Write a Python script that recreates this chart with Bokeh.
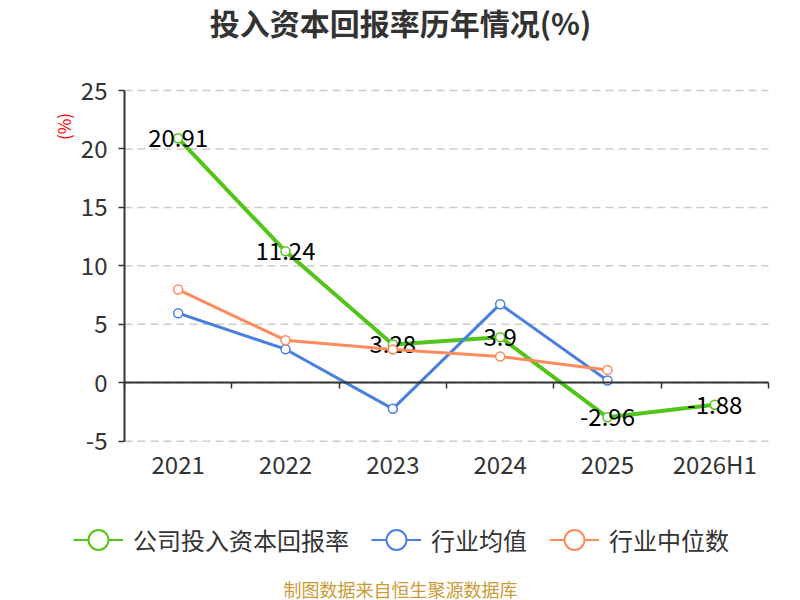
from math import pi
from bokeh.plotting import figure
from bokeh.layouts import column
from bokeh.models import (Range1d, LinearAxis, FixedTicker, Legend, LegendItem,
                          Label, ColumnDataSource)
from bokeh.core.properties import value
from bokeh.embed import file_html
from bokeh.resources import INLINE

# ---- data ----
categories = ["2021", "2022", "2023", "2024", "2025", "2026H1"]
company = [20.91, 11.24, 3.28, 3.9, -2.96, -1.88]
industry_avg = [5.95, 2.87, -2.23, 6.72, 0.19]
industry_median = [7.97, 3.64, 2.84, 2.24, 1.10]
y_ticks = [-5, 0, 5, 10, 15, 20, 25]
series_names = ["公司投入资本回报率", "行业均值", "行业中位数"]
title_text = "投入资本回报率历年情况(%)"
unit_text = "(%)"
footer_text = "制图数据来自恒生聚源数据库"

FONT = "Noto Sans CJK SC"
GREEN = "#52c41a"
BLUE = "#4a7fe0"
ORANGE = "#ff8a5b"
TXT = "#333333"
colors = [GREEN, BLUE, ORANGE]

n = len(categories)
xs = [i + 0.5 for i in range(n)]
boundaries = list(range(n + 1))
series = [company, industry_avg, industry_median]

# layout: the frames of all three plots span page x 50..800,
# the category band 0..n is drawn over page x 124..768
FRAME_L, AX_L, AX_R, FRAME_R = 50, 124, 768, 800
unit_px = (AX_R - AX_L) / n
x_start = -(AX_L - FRAME_L) / unit_px
x_end = n + (FRAME_R - AX_R) / unit_px

# vertical: value 25 at page y 90, -5 at page y 440.7; main frame 76..452
Y_TOP_PX, Y_BOT_PX = 90.0, 440.7
ypx = (Y_BOT_PX - Y_TOP_PX) / (y_ticks[-1] - y_ticks[0])
F_TOP, F_BOT = 76, 452
y_end = y_ticks[-1] + (Y_TOP_PX - F_TOP) / ypx
y_start = y_ticks[0] - (F_BOT - Y_BOT_PX) / ypx


def bare(h):
    f = figure(width=800, height=h, x_range=Range1d(x_start, x_end),
               y_range=Range1d(-5, 25), output_backend="svg",
               toolbar_location=None, x_axis_type=None, y_axis_type=None,
               min_border=0, min_border_left=FRAME_L)
    f.outline_line_color = None
    f.background_fill_color = "white"
    f.border_fill_color = "white"
    f.xgrid.visible = False
    f.ygrid.visible = False
    return f


# ---------- top: title ----------
p_top = bare(70)
p_top.add_layout(Label(x=400 - FRAME_L, y=49, x_units="screen", y_units="screen",
                       text=title_text, text_align="center",
                       text_baseline="middle", text_font=FONT,
                       text_font_size="30px", text_font_style="bold",
                       text_color=TXT))

# ---------- main chart ----------
p = figure(width=800, height=420, x_range=Range1d(x_start, x_end),
           y_range=Range1d(y_start, y_end), output_backend="svg",
           toolbar_location=None, x_axis_type=None, y_axis_type=None,
           min_border_left=FRAME_L, min_border_right=0,
           min_border_top=F_TOP - 70, min_border_bottom=490 - F_BOT)
p.outline_line_color = None
p.background_fill_color = "white"
p.border_fill_color = "white"

# dashed horizontal grid over the category band
grid_src = ColumnDataSource(dict(y=y_ticks, x0=[0] * len(y_ticks),
                                 x1=[n] * len(y_ticks)))
p.segment(x0="x0", x1="x1", y0="y", y1="y", source=grid_src,
          line_color="#cccccc", line_dash="8 5", line_width=1.5)

yaxis = LinearAxis(fixed_location=0, bounds=(y_ticks[0], y_ticks[-1]),
                   ticker=FixedTicker(ticks=y_ticks),
                   major_label_overrides={t: str(t) for t in y_ticks})
yaxis.axis_line_color = TXT
yaxis.axis_line_width = 2
yaxis.major_tick_line_color = TXT
yaxis.major_tick_line_width = 1.5
yaxis.major_tick_out = 6
yaxis.major_tick_in = 0
yaxis.minor_tick_line_color = None
yaxis.major_label_text_font = FONT
yaxis.major_label_text_font_size = "24px"
yaxis.major_label_text_color = TXT
yaxis.major_label_standoff = 11
p.add_layout(yaxis, "left")

# unit label
p.add_layout(Label(x=63 - FRAME_L, y=F_BOT - 126, x_units="screen",
                   y_units="screen", text=unit_text, text_align="center",
                   text_baseline="middle", angle=pi / 2, text_font=FONT,
                   text_font_size="17px", text_color="red"))

xzero = LinearAxis(fixed_location=0, bounds=(0, n),
                   ticker=FixedTicker(ticks=boundaries),
                   major_label_overrides={b: "" for b in boundaries})
xzero.axis_line_color = TXT
xzero.axis_line_width = 2
xzero.major_tick_line_color = TXT
xzero.major_tick_line_width = 1.5
xzero.major_tick_out = 0
xzero.major_tick_in = 6
xzero.minor_tick_line_color = None
xzero.major_label_text_font_size = "1px"
xzero.major_label_standoff = 0
p.add_layout(xzero, "above")

xlab = LinearAxis(ticker=FixedTicker(ticks=xs),
                  major_label_overrides={x: c for x, c in zip(xs, categories)})
xlab.axis_line_color = None
xlab.major_tick_line_color = None
xlab.minor_tick_line_color = None
xlab.major_tick_out = 0
xlab.major_tick_in = 0
xlab.major_label_text_font = FONT
xlab.major_label_text_font_size = "24px"
xlab.major_label_text_color = TXT
xlab.major_label_standoff = -7
p.add_layout(xlab, "below")

src_c = ColumnDataSource(dict(x=xs, y=company, t=[str(v) for v in company]))
p.line("x", "y", source=src_c, color=GREEN, line_width=4)
p.scatter("x", "y", source=src_c, size=9, marker="circle", fill_color="white",
          line_color=GREEN, line_width=1.5)
p.text("x", "y", text="t", source=src_c, text_align="center",
       text_baseline="middle", text_font=value(FONT), text_font_size="24px",
       text_color="black")

for vals, col in zip(series[1:], colors[1:]):
    p.line(xs[:len(vals)], vals, color=col, line_width=3)
    p.scatter(xs[:len(vals)], vals, size=9, marker="circle",
              fill_color="white", line_color=col, line_width=1.5)

# ---------- bottom: legend + footer ----------
p_bot = bare(110)
items = []
for name, vals, col in zip(series_names, series, colors):
    lr = p_bot.line(xs[:len(vals)], vals, color=col, line_width=2,
                    visible=False)
    sr = p_bot.scatter(xs[:len(vals)], vals, size=22, marker="circle",
                       fill_color="white", line_color=col, line_width=2,
                       visible=False)
    items.append(LegendItem(label=name, renderers=[lr, sr]))

legend = Legend(items=items, orientation="horizontal",
                location=(73 - FRAME_L, 33))
legend.glyph_width = 50
legend.glyph_height = 55
legend.label_height = 55
legend.label_standoff = 10
legend.spacing = 22
legend.padding = 0
legend.margin = 0
legend.border_line_color = None
legend.background_fill_alpha = 0
legend.label_text_font = FONT
legend.label_text_font_size = "24px"
legend.label_text_color = TXT
legend.label_text_baseline = "middle"
p_bot.add_layout(legend)

p_bot.add_layout(Label(x=400 - FRAME_L, y=12, x_units="screen", y_units="screen",
                       text=footer_text, text_align="center",
                       text_baseline="middle", text_font=FONT,
                       text_font_size="18px", text_color="#cc9a36"))

layout = column(p_top, p, p_bot, spacing=0)
open("out.html", "w").write(file_html(layout, INLINE))
